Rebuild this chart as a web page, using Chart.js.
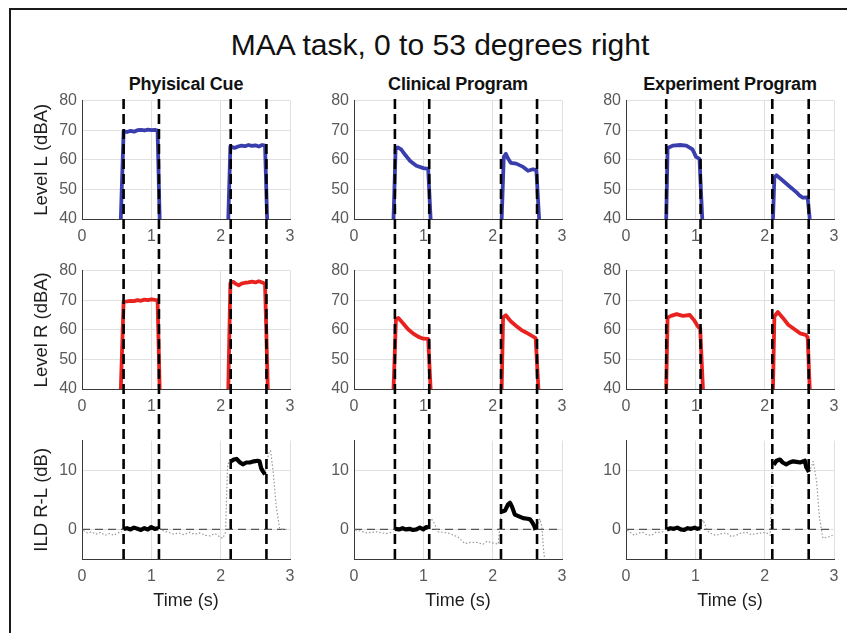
<!DOCTYPE html>
<html><head><meta charset="utf-8">
<script src="https://cdn.jsdelivr.net/npm/chart.js@4.4.0/dist/chart.umd.min.js"></script>
<style>
html,body{margin:0;padding:0;background:#fff;}
#fig{position:relative;width:847px;height:633px;overflow:hidden;background:#fff;font-family:'Liberation Sans',Arial,sans-serif;}
#fig canvas{position:absolute;}
.frameTop{position:absolute;left:9px;top:8px;width:838px;height:2px;background:#1a1a1a;}
.frameLeft{position:absolute;left:9px;top:8px;width:2px;height:625px;background:#1a1a1a;}
.title{position:absolute;left:140px;width:600px;top:28px;text-align:center;font-size:30px;line-height:34px;color:#111;white-space:nowrap;}
.sub{position:absolute;width:260px;text-align:center;font-weight:bold;font-size:18px;line-height:21px;top:74px;color:#111;white-space:nowrap;letter-spacing:-0.2px;}
</style></head><body>
<div id="fig">
  <div class="frameTop"></div><div class="frameLeft"></div>
  <div class="title">MAA task, 0 to 53 degrees right</div>
</div>
<script>
// ---------- labels / ticks ----------
const columnTitles = ['Phyisical Cue', 'Clinical Program', 'Experiment Program'];
const rowTitles = ['Level L (dBA)', 'Level R (dBA)', 'ILD R-L (dB)'];
const xTitle = 'Time (s)';
const xTicks = [0, 1, 2, 3];
const levelTicks = [40, 50, 60, 70, 80];
const ildTicks = [0, 10];

// ---------- stimulus on/off markers (s) ----------
const physEvents = [0.60, 1.11, 2.145, 2.66];
const clinEvents = [0.59, 1.085, 2.12, 2.64];
const expEvents  = [0.58, 1.075, 2.11, 2.635];

// ---------- Level L (dBA) ----------
const physLT = [0.56, 0.60, 0.65, 0.70, 0.75, 0.80, 0.85, 0.90, 0.95, 1.00, 1.05, 1.09, 1.12, 1.6, 2.11, 2.14, 2.20, 2.25, 2.30, 2.35, 2.40, 2.45, 2.50, 2.55, 2.60, 2.64, 2.67];
const physLV = [40, 69.6, 69.4, 69.8, 69.5, 70.0, 70.1, 69.9, 70.2, 70.0, 70.1, 69.9, 40, null, 40, 64.6, 64.0, 64.5, 64.8, 64.6, 65.0, 64.7, 64.9, 64.5, 65.0, 64.8, 40];
const clinLT = [0.57, 0.60, 0.63, 0.68, 0.74, 0.81, 0.90, 1.00, 1.07, 1.105, 1.6, 2.13, 2.16, 2.19, 2.22, 2.26, 2.34, 2.44, 2.51, 2.58, 2.63, 2.67];
const clinLV = [40, 63.5, 64.2, 63.5, 61.6, 59.6, 58.0, 57.2, 56.9, 40, null, 40, 61.0, 62.0, 60.5, 59.0, 58.7, 57.6, 56.3, 56.8, 56.5, 40];
const expLT  = [0.58, 0.60, 0.68, 0.78, 0.87, 0.96, 1.01, 1.06, 1.10, 1.6, 2.12, 2.14, 2.17, 2.26, 2.36, 2.46, 2.50, 2.55, 2.62, 2.65];
const expLV  = [40, 64.0, 64.8, 65.0, 64.8, 63.5, 61.0, 60.3, 40, null, 40, 54.0, 54.8, 53.0, 51.0, 49.0, 48.0, 47.2, 47.3, 40];

// ---------- Level R (dBA) ----------
const physRT = [0.56, 0.60, 0.65, 0.70, 0.75, 0.80, 0.85, 0.90, 0.95, 1.00, 1.05, 1.09, 1.12, 1.6, 2.11, 2.14, 2.18, 2.22, 2.26, 2.30, 2.35, 2.40, 2.45, 2.50, 2.55, 2.60, 2.64, 2.68];
const physRV = [40, 69.5, 69.6, 69.8, 69.7, 70.0, 69.8, 70.2, 70.0, 70.3, 70.1, 70.0, 40, null, 40, 75.8, 76.2, 75.5, 75.0, 75.6, 75.9, 76.0, 76.3, 76.0, 76.4, 76.0, 75.5, 40];
const clinRT = [0.57, 0.605, 0.64, 0.71, 0.78, 0.85, 0.93, 1.00, 1.07, 1.105, 1.6, 2.13, 2.15, 2.19, 2.26, 2.34, 2.41, 2.48, 2.56, 2.62, 2.66];
const clinRV = [40, 63.5, 64.0, 62.1, 60.2, 58.8, 57.6, 57.0, 56.9, 40, null, 40, 64.2, 64.9, 62.9, 61.3, 60.0, 59.1, 58.0, 57.2, 40];
const expRT  = [0.58, 0.60, 0.65, 0.73, 0.82, 0.92, 0.99, 1.04, 1.07, 1.11, 1.6, 2.12, 2.14, 2.19, 2.26, 2.34, 2.43, 2.51, 2.59, 2.62, 2.65];
const expRV  = [40, 64.1, 64.7, 65.3, 64.7, 65.0, 63.0, 61.0, 60.5, 40, null, 40, 64.5, 66.0, 64.1, 61.7, 60.2, 58.8, 58.3, 57.5, 40];

// ---------- ILD R-L (dB): during stimuli (solid) ----------
const physIldT = [0.60, 0.65, 0.70, 0.75, 0.80, 0.85, 0.90, 0.95, 1.00, 1.05, 1.10, 1.6, 2.15, 2.19, 2.23, 2.28, 2.32, 2.37, 2.42, 2.48, 2.53, 2.56, 2.585, 2.61, 2.64];
const physIldV = [0.1, 0.2, 0.0, 0.3, 0.1, -0.1, 0.2, 0.0, 0.4, 0.1, 0.2, null, 11.5, 11.8, 11.9, 11.3, 11.0, 11.3, 11.3, 11.5, 11.6, 11.5, 10.3, 9.8, 9.3];
const clinIldT = [0.59, 0.65, 0.70, 0.75, 0.80, 0.85, 0.90, 0.95, 1.00, 1.04, 1.07, 1.6, 2.13, 2.18, 2.22, 2.25, 2.28, 2.32, 2.38, 2.44, 2.50, 2.54, 2.57, 2.60, 2.62];
const clinIldV = [0.1, 0.0, 0.2, 0.0, 0.1, -0.1, 0.0, 0.3, 0.0, 0.4, 0.3, null, 3.0, 3.2, 4.2, 4.5, 3.8, 2.5, 2.2, 1.9, 1.8, 1.7, 1.2, 0.6, -0.1];
const expIldT  = [0.59, 0.64, 0.69, 0.74, 0.79, 0.84, 0.89, 0.94, 0.99, 1.03, 1.07, 1.6, 2.13, 2.17, 2.22, 2.26, 2.31, 2.36, 2.41, 2.46, 2.51, 2.56, 2.58, 2.60, 2.64];
const expIldV  = [0.0, 0.2, 0.1, 0.3, 0.0, -0.1, 0.2, 0.1, 0.3, 0.1, 0.2, null, 10.9, 11.6, 11.8, 11.3, 11.0, 11.3, 11.5, 11.4, 11.3, 11.5, 11.6, 10.5, 9.7];

// ---------- ILD R-L (dB): outside stimuli (dotted) ----------
const physOutT = [0.02, 0.08, 0.14, 0.20, 0.27, 0.33, 0.40, 0.46, 0.52, 0.58, 0.8, 1.12, 1.18, 1.25, 1.32, 1.40, 1.47, 1.55, 1.62, 1.70, 1.78, 1.85, 1.92, 1.98, 2.03, 2.07, 2.10, 2.13, 2.4, 2.64, 2.69, 2.72, 2.76, 2.80, 2.85, 2.90, 2.95];
const physOutV = [-0.2, -0.6, -0.4, -0.8, -0.5, -1.0, -0.7, -1.0, -0.6, -0.4, null, 0.2, -0.3, -0.5, -0.8, -0.6, -0.9, -0.5, -0.8, -0.6, -1.0, -1.1, -0.7, -1.2, -1.5, -0.5, 11.0, 11.4, null, 9.3, 12.8, 13.3, 9.5, 4.0, 0.2, 0.0, 0.0];
const clinOutT = [0.02, 0.10, 0.18, 0.25, 0.33, 0.40, 0.47, 0.57, 0.8, 1.07, 1.10, 1.14, 1.21, 1.30, 1.38, 1.50, 1.60, 1.68, 1.77, 1.86, 1.92, 1.98, 2.04, 2.08, 2.12, 2.4, 2.62, 2.66, 2.68, 2.71, 2.73, 2.76];
const clinOutV = [-0.1, -0.3, -0.6, -0.5, -0.4, -0.6, -0.7, -0.4, null, 0.3, 1.8, 1.5, -0.4, -0.5, -0.7, -1.3, -2.4, -2.2, -2.2, -2.5, -2.0, -2.2, -2.4, -2.5, 2.5, null, -0.1, 1.0, 1.8, 0.5, -3.0, -6.0];
const expOutT  = [0.02, 0.05, 0.12, 0.18, 0.24, 0.30, 0.37, 0.43, 0.49, 0.57, 0.8, 1.07, 1.11, 1.18, 1.24, 1.30, 1.38, 1.45, 1.52, 1.59, 1.66, 1.74, 1.81, 1.88, 1.95, 2.02, 2.08, 2.11, 2.4, 2.64, 2.67, 2.70, 2.75, 2.79, 2.84, 2.91, 2.98];
const expOutV  = [-0.1, -0.4, -1.0, -0.6, -0.5, -0.9, -1.0, -0.5, -0.5, -0.3, null, 0.2, 1.6, -0.3, -0.8, -1.0, -0.7, -0.6, -1.2, -1.0, -0.6, -0.5, -0.9, -0.7, -0.6, -0.5, -1.0, 10.5, null, 9.7, 10.5, 11.5, 8.0, 2.0, -1.5, -1.3, -1.0];

const zeroLineT = [0, 3];
const zeroLineV = [0, 0];

// ---------- layout ----------
const colLeft = [82, 354, 626];
const rowTop = [98, 268, 438];
const plotW = 208, plotH = 121;
const fig = document.getElementById('fig');
Chart.defaults.font.family = "'Liberation Sans', Arial, sans-serif";

const BLUE = '#3a3eac', RED = '#e8221f', BLACK = '#000000';
function pts(t, v) { return t.map((x, i) => ({ x: x, y: v[i] })); }
function lineDS(t, v, color, width, dash) {
  return { data: pts(t, v), borderColor: color, borderWidth: width, borderDash: dash || [], pointRadius: 0, fill: false, spanGaps: false, tension: 0, borderJoinStyle: 'round', borderCapStyle: 'butt' };
}

function makeChart(col, row, datasets, yMin, yMax, yTicks) {
  const YW = 70, PT = 12, PR = 14, XH = (row === 2 ? 66 : 30);
  const w = YW + plotW + PR, h = PT + plotH + XH;
  const c = document.createElement('canvas');
  c.width = w; c.height = h;
  c.style.left = (colLeft[col] - YW) + 'px'; c.style.top = (rowTop[row] - PT) + 'px';
  c.style.width = w + 'px'; c.style.height = h + 'px';
  fig.appendChild(c);
  const gridC = '#e0e0e0', axisC = '#3a3a3a';
  new Chart(c, {
    type: 'line',
    data: { datasets: datasets },
    options: {
      responsive: false, animation: false, devicePixelRatio: 1,
      layout: { padding: { left: 0, top: PT, right: PR, bottom: 0 } },
      plugins: { legend: { display: false }, tooltip: { enabled: false }, title: { display: false } },
      scales: {
        x: {
          type: 'linear', min: 0, max: 3,
          afterBuildTicks: s => { s.ticks = xTicks.map(v => ({ value: v })); },
          afterFit: s => { s.height = XH; },
          grid: { color: gridC, drawTicks: false },
          border: { color: axisC, width: 1 },
          ticks: { font: { size: 16 }, color: '#5a5a5a', padding: 8, maxRotation: 0, autoSkip: false },
          title: { display: row === 2, text: xTitle, font: { size: 18 }, color: '#1e1e1e', padding: { top: 0, bottom: 13 } }
        },
        y: {
          type: 'linear', min: yMin, max: yMax,
          afterBuildTicks: s => { s.ticks = yTicks.map(v => ({ value: v })); },
          afterFit: s => { s.width = YW; },
          grid: { color: gridC, drawTicks: false },
          border: { color: axisC, width: 1 },
          ticks: { font: { size: 16 }, color: '#5a5a5a', padding: 5 },
          title: { display: col === 0, text: rowTitles[row], font: { size: 18.5 }, color: '#1e1e1e', padding: { top: 19, bottom: 0 } }
        }
      }
    }
  });
}

function makeMarkers(col, events) {
  const top = rowTop[0], bottom = rowTop[2] + plotH;
  const c = document.createElement('canvas');
  c.width = plotW; c.height = bottom - top;
  c.style.left = colLeft[col] + 'px'; c.style.top = top + 'px';
  c.style.width = plotW + 'px'; c.style.height = (bottom - top) + 'px';
  fig.appendChild(c);
  new Chart(c, {
    type: 'line',
    data: { datasets: events.map(t => lineDS([t, t], [0, 1], BLACK, 2.6, [10, 5])) },
    options: {
      responsive: false, animation: false, devicePixelRatio: 1,
      layout: { padding: 0 },
      plugins: { legend: { display: false }, tooltip: { enabled: false } },
      scales: { x: { type: 'linear', min: 0, max: 3, display: false }, y: { min: 0, max: 1, display: false } }
    }
  });
}

const levelL = [[physLT, physLV], [clinLT, clinLV], [expLT, expLV]];
const levelR = [[physRT, physRV], [clinRT, clinRV], [expRT, expRV]];
const ildIn = [[physIldT, physIldV], [clinIldT, clinIldV], [expIldT, expIldV]];
const ildOut = [[physOutT, physOutV], [clinOutT, clinOutV], [expOutT, expOutV]];
const events = [physEvents, clinEvents, expEvents];

for (let col = 0; col < 3; col++) {
  const d = document.createElement('div');
  d.className = 'sub'; d.textContent = columnTitles[col];
  d.style.left = (colLeft[col] + plotW / 2 - 130) + 'px';
  fig.appendChild(d);
  makeChart(col, 0, [lineDS(levelL[col][0], levelL[col][1], BLUE, 3.8)], 40, 80, levelTicks);
  makeChart(col, 1, [lineDS(levelR[col][0], levelR[col][1], RED, 3.8)], 40, 80, levelTicks);
  makeChart(col, 2, [
    lineDS(ildIn[col][0], ildIn[col][1], BLACK, 4.2),
    lineDS(ildOut[col][0], ildOut[col][1], '#999999', 1.2, [1.5, 2]),
    lineDS(zeroLineT, zeroLineV, '#555555', 1.2, [8, 5])
  ], -5, 15, ildTicks);
  makeMarkers(col, events[col]);
}
</script>
</body></html>
